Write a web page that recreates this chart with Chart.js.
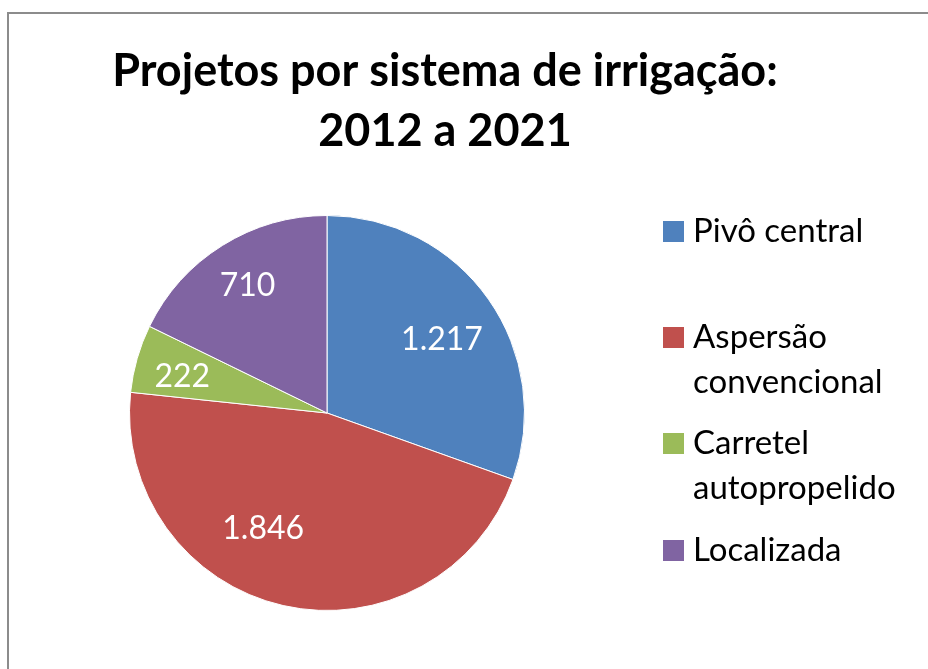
<!DOCTYPE html>
<html>
<head>
<meta charset="utf-8">
<script src="https://cdn.jsdelivr.net/npm/chart.js@4/dist/chart.umd.min.js"></script>
<style>
  body { margin: 0; background: #fff; }
  #wrap { width: 928px; height: 669px; }
</style>
</head>
<body>
<div id="wrap"><canvas id="pieChart" width="928" height="669"></canvas></div>
<script>
// Data
const categories = ['Pivô central', 'Aspersão convencional', 'Carretel autopropelido', 'Localizada'];
const legendLines = [['Pivô central'], ['Aspersão', 'convencional'], ['Carretel', 'autopropelido'], ['Localizada']];
const projetos = [1217, 1846, 222, 710];
const titleLines = ['Projetos por sistema de irrigação:', '2012 a 2021'];

const colors = ['#4F81BD', '#C0504D', '#9BBB59', '#8064A2'];
// label placement tweaks (angle shift in degrees, fraction of radius)
const labelShift = [2.7, 16, -2, 0];
const labelFrac = [0.69, 0.67, 0.755, 0.76];

const FONT = 'Lato, "Open Sans", sans-serif';

function fmt(n) {
    return String(n).replace(/\B(?=(\d{3})+(?!\d))/g, '.');
}

// frame around the chart
const framePlugin = {
    id: 'frame',
    beforeDraw(chart) {
        const ctx = chart.ctx;
        ctx.save();
        ctx.fillStyle = '#fff';
        ctx.fillRect(0, 0, chart.width, chart.height);
        ctx.strokeStyle = '#8c8c8c';
        ctx.lineWidth = 2;
        ctx.beginPath();
        ctx.moveTo(8, chart.height + 5);
        ctx.lineTo(8, 13);
        ctx.lineTo(chart.width + 5, 13);
        ctx.stroke();
        ctx.restore();
    }
};

// white value labels inside slices
const valueLabels = {
    id: 'valueLabels',
    afterDatasetsDraw(chart) {
        const ctx = chart.ctx;
        const meta = chart.getDatasetMeta(0);
        ctx.save();
        ctx.fillStyle = '#fff';
        ctx.font = '32px ' + FONT;
        ctx.textAlign = 'center';
        ctx.textBaseline = 'middle';
        meta.data.forEach((arc, i) => {
            const p = arc.getProps(['x', 'y', 'startAngle', 'endAngle', 'outerRadius'], true);
            const mid = (p.startAngle + p.endAngle) / 2 + labelShift[i] * Math.PI / 180;
            const r = p.outerRadius * labelFrac[i];
            ctx.fillText(fmt(projetos[i]), p.x + Math.cos(mid) * r, p.y + Math.sin(mid) * r);
        });
        ctx.restore();
    }
};

// title and legend drawn on the canvas
const titleLegend = {
    id: 'titleLegend',
    afterDraw(chart) {
        const ctx = chart.ctx;
        ctx.save();
        ctx.fillStyle = '#000';
        ctx.textAlign = 'center';
        ctx.textBaseline = 'alphabetic';
        ctx.font = 'bold 45px ' + FONT;
        titleLines.forEach((t, i) => ctx.fillText(t, 445, 86 + i * 60));

        ctx.textAlign = 'left';
        ctx.font = '33px ' + FONT;
        const baselines = [242, 348, 454, 561];
        legendLines.forEach((lines, i) => {
            ctx.fillStyle = colors[i];
            ctx.fillRect(663, baselines[i] - 21, 21, 21);
            ctx.fillStyle = '#000';
            lines.forEach((line, j) => ctx.fillText(line, 693, baselines[i] + j * 45));
        });
        ctx.restore();
    }
};

new Chart(document.getElementById('pieChart'), {
    type: 'pie',
    data: {
        labels: categories,
        datasets: [{
            data: projetos,
            backgroundColor: colors,
            borderColor: '#fff',
            borderWidth: 1
        }]
    },
    options: {
        responsive: false,
        animation: false,
        layout: {
            padding: { left: 129, right: 403, top: 215, bottom: 58 }
        },
        plugins: {
            legend: { display: false },
            title: { display: false },
            tooltip: { enabled: false }
        }
    },
    plugins: [framePlugin, valueLabels, titleLegend]
});
</script>
</body>
</html>
